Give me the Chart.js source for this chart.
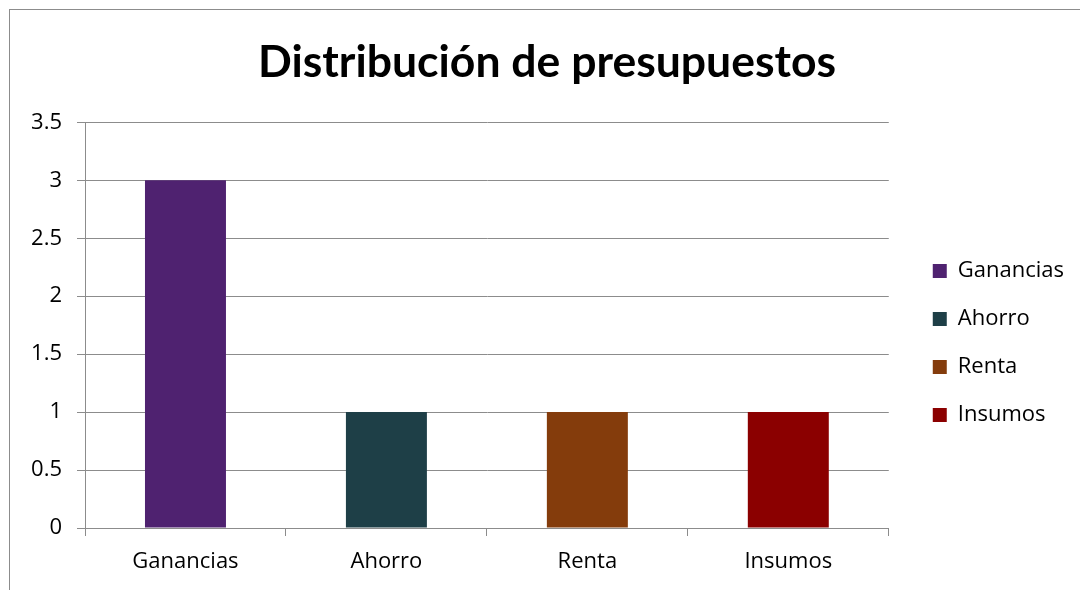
<!DOCTYPE html>
<html>
<head>
<meta charset="utf-8">
<script src="https://cdn.jsdelivr.net/npm/chart.js@4/dist/chart.umd.min.js"></script>
<style>
  html, body { margin: 0; padding: 0; background: #ffffff; }
  #wrap { position: relative; width: 1080px; height: 590px; overflow: hidden; }
  #frame { position: absolute; left: 9px; top: 9px; width: 1200px; height: 700px;
           border-left: 1px solid #8c8c8c; border-top: 1px solid #8c8c8c; }
  canvas { position: absolute; left: 0; top: 0; }
</style>
</head>
<body>
<div id="wrap">
  <div id="frame"></div>
  <canvas id="c" width="1080" height="590"></canvas>
</div>
<script>
const titleText = 'Distribución de presupuestos';
const categories = ['Ganancias', 'Ahorro', 'Renta', 'Insumos'];
const values = [3, 1, 1, 1];
const barColors = ['#4f2270', '#1e3f47', '#843c0c', '#8b0000'];
const yTicks = [0, 0.5, 1, 1.5, 2, 2.5, 3, 3.5];

const FONT = '"Open Sans", "Noto Sans", sans-serif';
const TITLE_FONT = 'Lato, "Open Sans", sans-serif';
const GRID = '#8c8c8c';

new Chart(document.getElementById('c'), {
  type: 'bar',
  data: {
    labels: categories,
    datasets: [{
      label: 'Serie 1',
      data: values,
      backgroundColor: barColors,
      borderWidth: 0,
      barPercentage: 0.403,
      categoryPercentage: 1.0,
      yAxisID: 'y'
    }]
  },
  options: {
    responsive: false,
    animation: false,
    layout: { padding: { left: 20, right: 6, top: 0, bottom: 0 } },
    plugins: {
      title: {
        display: true,
        text: titleText,
        color: '#000',
        font: { family: TITLE_FONT, size: 44.5, weight: 'bold' },
        padding: { top: 36, bottom: 33 }
      },
      legend: {
        position: 'right',
        title: { display: true, text: ' ', font: { size: 10 }, padding: 42 },
        labels: {
          font: { family: FONT, size: 22 },
          color: '#000',
          boxWidth: 14,
          boxHeight: 14,
          padding: 26,
          generateLabels: (chart) => categories.map((c, i) => ({
            text: c,
            fillStyle: barColors[i],
            strokeStyle: barColors[i],
            fontColor: '#000',
            lineWidth: 0,
            hidden: false,
            index: i,
            datasetIndex: 0
          }))
        },
        onClick: () => {}
      },
      tooltip: { enabled: false }
    },
    scales: {
      x: {
        grid: { offset: true, drawOnChartArea: false, drawTicks: true, tickLength: 8, color: GRID },
        border: { color: GRID },
        ticks: { font: { family: FONT, size: 22 }, color: '#000', padding: 13 },
        afterFit: (s) => { s.height = 62; }
      },
      y: {
        min: 0,
        max: 3.5,
        afterBuildTicks: (s) => { s.ticks = yTicks.map(v => ({ value: v })); },
        grid: { color: GRID, tickLength: 8 },
        border: { color: GRID },
        ticks: { font: { family: FONT, size: 22 }, color: '#000', padding: 15,
                 callback: (v) => String(v) },
        afterFit: (s) => { s.width = 65; }
      },
      gap: {
        type: 'linear',
        position: 'right',
        min: 0,
        max: 1,
        grid: { display: false },
        border: { display: false },
        ticks: { display: false },
        afterFit: (s) => { s.width = 18; }
      }
    }
  }
});
</script>
</body>
</html>
